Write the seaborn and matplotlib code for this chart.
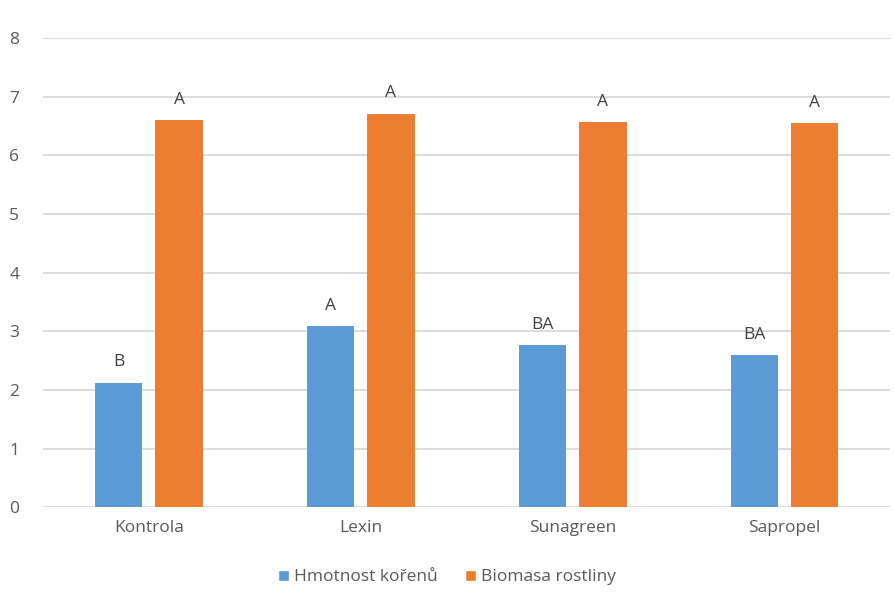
import pandas as pd
import matplotlib.pyplot as plt
import seaborn as sns
from matplotlib.patches import Patch

# --- Data ---
categories = ["Kontrola", "Lexin", "Sunagreen", "Sapropel"]
series_names = ["Hmotnost kořenů", "Biomasa rostliny"]
root_mass = [2.12, 3.09, 2.76, 2.59]
plant_biomass = [6.60, 6.71, 6.56, 6.55]
root_letters = ["B", "A", "BA", "BA"]
biomass_letters = ["A", "A", "A", "A"]

colors = ["#5B9BD5", "#ED7D31"]
text_color = "#595959"

df = pd.DataFrame({
    "kategorie": categories * 2,
    "serie": [series_names[0]] * 4 + [series_names[1]] * 4,
    "hodnota": root_mass + plant_biomass,
})

sns.set_style("white")
plt.rcParams["font.family"] = ["Open Sans", "DejaVu Sans"]

fig = plt.figure(figsize=(8.94, 5.94), dpi=100)
ax = fig.add_axes([0.048, 0.146, 0.948, 0.79])

sns.barplot(data=df, x="kategorie", y="hodnota", hue="serie",
            palette=colors, width=0.571, gap=0.216, saturation=1,
            linewidth=0, legend=False, ax=ax)

# significance letters above each bar
letters = root_letters + biomass_letters
for patch, lab in zip(ax.patches, letters):
    ax.annotate(lab, (patch.get_x() + patch.get_width() / 2, patch.get_height()),
                xytext=(0, 9), textcoords="offset points",
                ha="center", va="bottom", fontsize=12.5, color="#404040")

ax.set_ylim(0, 8)
ax.set_xlim(-0.5, 3.5)
ax.set_yticks(range(0, 9))
ax.yaxis.grid(True, color="#D9D9D9", linewidth=1.3)
ax.set_axisbelow(True)
for s in ax.spines.values():
    s.set_visible(False)
ax.tick_params(axis="both", length=0, labelsize=12.5, labelcolor=text_color)
ax.tick_params(axis="y", pad=17)
ax.tick_params(axis="x", pad=9)
ax.set_xlabel("")
ax.set_ylabel("")

handles = [Patch(facecolor=c, label=n) for c, n in zip(colors, series_names)]
leg = fig.legend(handles=handles, loc="center", bbox_to_anchor=(0.5, 0.028),
                 ncol=2, frameon=False, fontsize=12.5, handlelength=0.6,
                 handleheight=0.6, handletextpad=0.3, columnspacing=1.6)
for t in leg.get_texts():
    t.set_color(text_color)

plt.savefig("out.png", dpi=100)
